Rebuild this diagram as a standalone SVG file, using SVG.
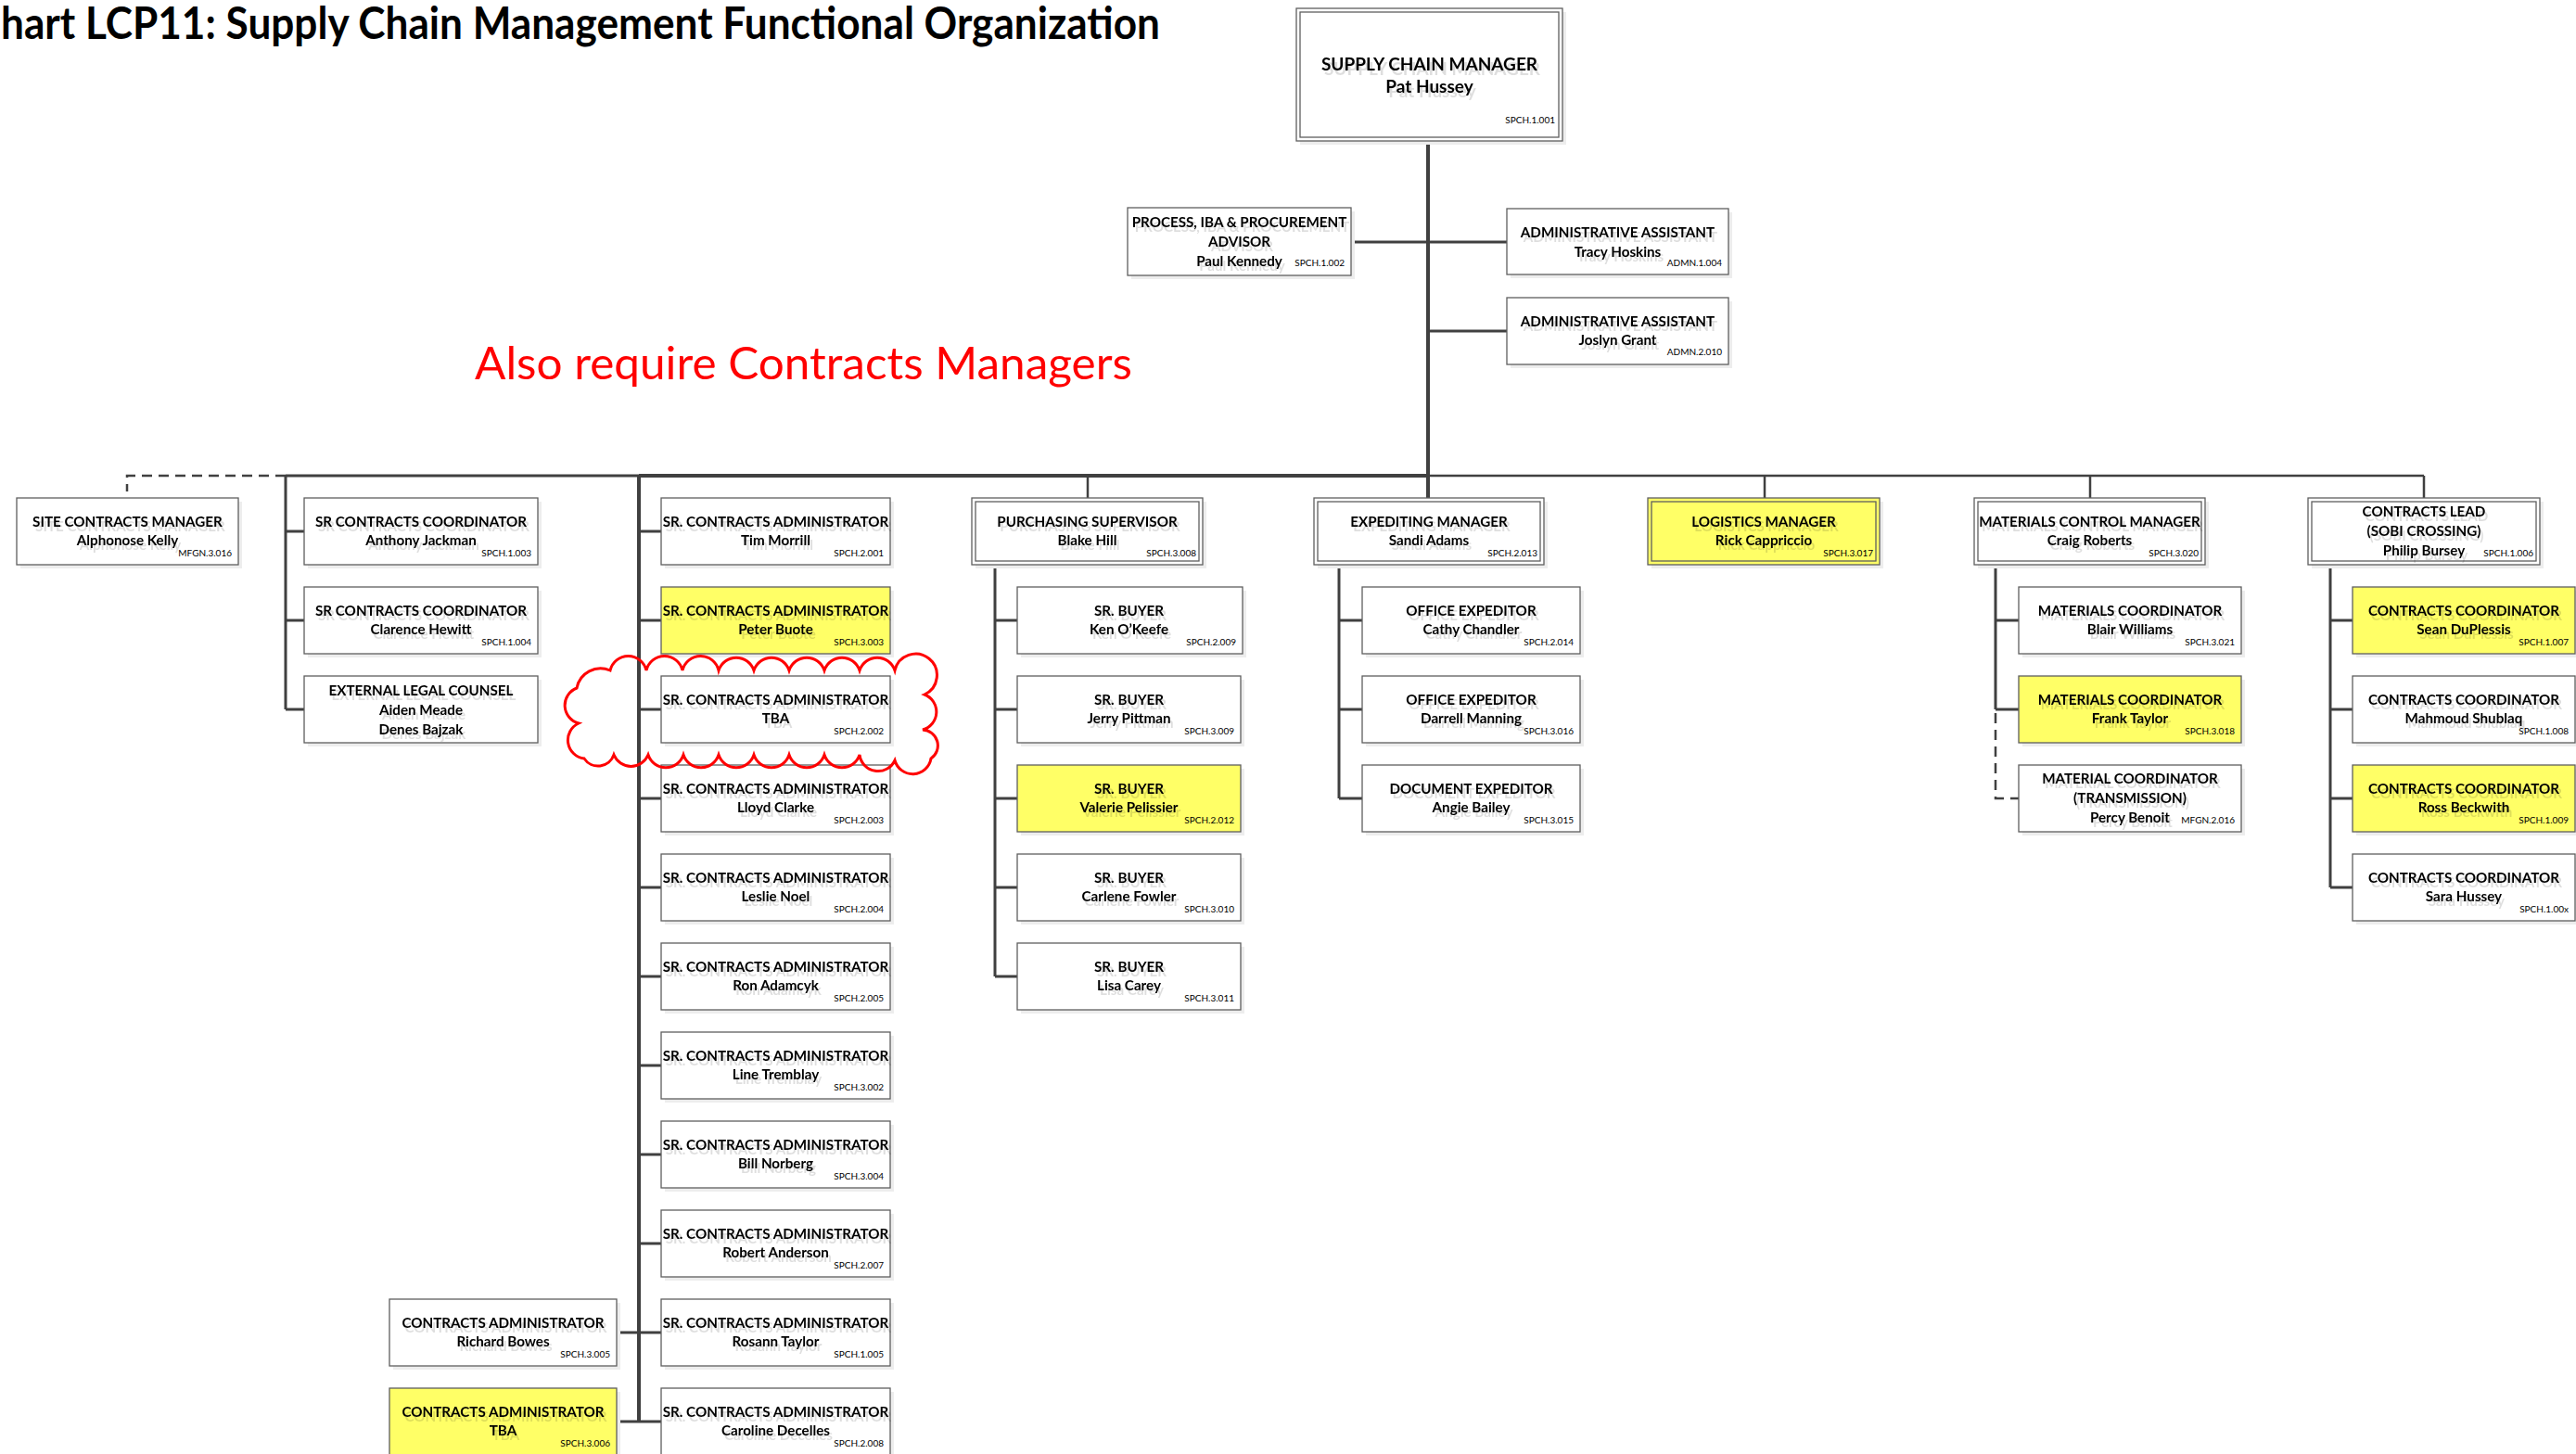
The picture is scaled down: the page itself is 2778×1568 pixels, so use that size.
<svg xmlns="http://www.w3.org/2000/svg" width="2778" height="1568" viewBox="0 0 2778 1568">
<defs>
  <!-- faint offset copy of each label, as printed by the org-chart tool -->
  <filter id="ghost" x="-5%" y="-20%" width="115%" height="160%">
    <feFlood flood-color="#000" flood-opacity="0.13" result="f"/>
    <feComposite in="f" in2="SourceAlpha" operator="in" result="s"/>
    <feOffset in="s" dx="3" dy="5" result="o"/>
    <feMerge><feMergeNode in="o"/><feMergeNode in="SourceGraphic"/></feMerge>
  </filter>
</defs>
<style>
.bg{fill:#fff}
.bx{fill:#fff;stroke:#5f5f5f;stroke-width:1.3}
.y{fill:#ffff66}
.sh{fill:#ededed}
.t{font-family:Lato,"Liberation Sans",sans-serif;font-weight:700;font-size:15.2px;text-anchor:middle;fill:#000;filter:url(#ghost)}
.tb{font-family:Lato,"Liberation Sans",sans-serif;font-weight:700;font-size:19px;text-anchor:middle;fill:#000;filter:url(#ghost)}
.c{font-family:Lato,"Liberation Sans",sans-serif;font-size:10px;text-anchor:end;fill:#000}
.ln{fill:none;stroke:#404040;stroke-width:3}
.lk{fill:none;stroke:#404040;stroke-width:4}
.lt{fill:none;stroke:#404040;stroke-width:2.5}
.ds{fill:none;stroke:#404040;stroke-width:2.5;stroke-dasharray:11 7}
.head{font-family:Lato,"Liberation Sans",sans-serif;font-weight:700;font-size:47px;fill:#000}
.note{font-family:Lato,"Liberation Sans",sans-serif;font-size:48px;fill:#ff0000}
.cloud{fill:none;stroke:#ff0000;stroke-width:3}
</style>
<rect class="bg" x="0" y="0" width="2778" height="1568"/>

<text class="head" x="1" y="42" textLength="1250" lengthAdjust="spacingAndGlyphs">hart LCP11: Supply Chain Management Functional Organization</text>

<!-- connectors -->
<g id="connectors">
  <path class="lk" d="M1540 152V537"/>
  <path class="ln" d="M1457 261H1625M1540 357H1625"/>
  <path class="lk" d="M689 513H1540"/>
  <path class="ln" d="M308 513H689"/>
  <path class="lt" d="M1540 513H2614"/>
  <path class="ds" d="M308 513H137V530"/>
  <path class="ln" d="M308 513V765M308 573H328M308 669H328M308 765H328"/>
  <path class="lk" d="M689 513V1533"/>
  <path class="ln" d="M689 573H713M689 669H713M689 765H713M689 861H713M689 957H713M689 1053H713M689 1149H713M689 1245H713M689 1341H713M689 1437H713M689 1533H713M665 1437H689M665 1533H689"/>
  <path class="lt" d="M1173 513V537M1903 513V537M2254 513V537M2614 513V537"/>
  <path class="ln" d="M1073 609V1053M1073 669H1097M1073 765H1097M1073 861H1097M1073 957H1097M1073 1053H1097"/>
  <path class="ln" d="M1444 609V861M1444 669H1469M1444 765H1469M1444 861H1469"/>
  <path class="ln" d="M2152 609V765M2152 669H2177M2152 765H2177"/>
  <path class="ds" d="M2152 769V861H2177"/>
  <path class="ln" d="M2513 609V957M2513 669H2537M2513 765H2537M2513 861H2537M2513 957H2537"/>
</g>

<!-- top of the tree -->
<g id="supply-chain-manager">
  <rect class="sh" x="1402" y="13" width="287" height="143"/>
  <rect class="bx" x="1398" y="9" width="287" height="143"/>
  <rect class="bx" x="1402" y="13" width="279" height="135"/>
  <text class="tb" x="1541.5" y="76">SUPPLY CHAIN MANAGER</text>
  <text class="tb" x="1541.5" y="100">Pat Hussey</text>
  <text class="c" x="1677" y="133">SPCH.1.001</text>
</g>
<g id="procurement-advisor">
  <rect class="sh" x="1220" y="228" width="241" height="73"/>
  <rect class="bx" x="1216" y="224" width="241" height="73"/>
  <text class="t" x="1336.5" y="245">PROCESS, IBA &amp; PROCUREMENT</text>
  <text class="t" x="1336.5" y="266">ADVISOR</text>
  <text class="t" x="1336.5" y="287">Paul Kennedy</text>
  <text class="c" x="1450" y="287">SPCH.1.002</text>
</g>
<g id="admin-assistant-1">
  <rect class="sh" x="1629" y="229" width="239" height="71"/>
  <rect class="bx" x="1625" y="225" width="239" height="71"/>
  <text class="t" x="1744.5" y="256">ADMINISTRATIVE ASSISTANT</text>
  <text class="t" x="1744.5" y="277">Tracy Hoskins</text>
  <text class="c" x="1857" y="287">ADMN.1.004</text>
</g>
<g id="admin-assistant-2">
  <rect class="sh" x="1629" y="325" width="239" height="72"/>
  <rect class="bx" x="1625" y="321" width="239" height="72"/>
  <text class="t" x="1744.5" y="352">ADMINISTRATIVE ASSISTANT</text>
  <text class="t" x="1744.5" y="372">Joslyn Grant</text>
  <text class="c" x="1857" y="383">ADMN.2.010</text>
</g>

<text class="note" x="512" y="409" textLength="709" lengthAdjust="spacingAndGlyphs">Also require Contracts Managers</text>

<!-- site contracts -->
<g id="site-contracts-manager">
  <rect class="sh" x="22" y="541" width="239" height="72"/>
  <rect class="bx" x="18" y="537" width="239" height="72"/>
  <text class="t" x="137.5" y="568">SITE CONTRACTS MANAGER</text>
  <text class="t" x="137.5" y="588">Alphonose Kelly</text>
  <text class="c" x="250" y="600">MFGN.3.016</text>
</g>

<!-- senior contracts coordinators -->
<g id="sr-coord-jackman">
  <rect class="sh" x="332" y="541" width="252" height="72"/>
  <rect class="bx" x="328" y="537" width="252" height="72"/>
  <text class="t" x="454" y="568">SR CONTRACTS COORDINATOR</text>
  <text class="t" x="454" y="588">Anthony Jackman</text>
  <text class="c" x="573" y="600">SPCH.1.003</text>
</g>
<g id="sr-coord-hewitt">
  <rect class="sh" x="332" y="637" width="252" height="72"/>
  <rect class="bx" x="328" y="633" width="252" height="72"/>
  <text class="t" x="454" y="664">SR CONTRACTS COORDINATOR</text>
  <text class="t" x="454" y="684">Clarence Hewitt</text>
  <text class="c" x="573" y="696">SPCH.1.004</text>
</g>
<g id="external-legal-counsel">
  <rect class="sh" x="332" y="733" width="252" height="72"/>
  <rect class="bx" x="328" y="729" width="252" height="72"/>
  <text class="t" x="454" y="750">EXTERNAL LEGAL COUNSEL</text>
  <text class="t" x="454" y="771">Aiden Meade</text>
  <text class="t" x="454" y="792">Denes Bajzak</text>
</g>

<!-- senior contracts administrators -->
<g id="sca-morrill">
  <rect class="sh" x="717" y="541" width="247" height="72"/>
  <rect class="bx" x="713" y="537" width="247" height="72"/>
  <text class="t" x="836.5" y="568">SR. CONTRACTS ADMINISTRATOR</text>
  <text class="t" x="836.5" y="588">Tim Morrill</text>
  <text class="c" x="953" y="600">SPCH.2.001</text>
</g>
<g id="sca-buote">
  <rect class="sh" x="717" y="637" width="247" height="72"/>
  <rect class="bx y" x="713" y="633" width="247" height="72"/>
  <text class="t" x="836.5" y="664">SR. CONTRACTS ADMINISTRATOR</text>
  <text class="t" x="836.5" y="684">Peter Buote</text>
  <text class="c" x="953" y="696">SPCH.3.003</text>
</g>
<g id="sca-tba">
  <rect class="sh" x="717" y="733" width="247" height="72"/>
  <rect class="bx" x="713" y="729" width="247" height="72"/>
  <text class="t" x="836.5" y="760">SR. CONTRACTS ADMINISTRATOR</text>
  <text class="t" x="836.5" y="780">TBA</text>
  <text class="c" x="953" y="792">SPCH.2.002</text>
</g>
<g id="sca-clarke">
  <rect class="sh" x="717" y="829" width="247" height="72"/>
  <rect class="bx" x="713" y="825" width="247" height="72"/>
  <text class="t" x="836.5" y="856">SR. CONTRACTS ADMINISTRATOR</text>
  <text class="t" x="836.5" y="876">Lloyd Clarke</text>
  <text class="c" x="953" y="888">SPCH.2.003</text>
</g>
<g id="sca-noel">
  <rect class="sh" x="717" y="925" width="247" height="72"/>
  <rect class="bx" x="713" y="921" width="247" height="72"/>
  <text class="t" x="836.5" y="952">SR. CONTRACTS ADMINISTRATOR</text>
  <text class="t" x="836.5" y="972">Leslie Noel</text>
  <text class="c" x="953" y="984">SPCH.2.004</text>
</g>
<g id="sca-adamcyk">
  <rect class="sh" x="717" y="1021" width="247" height="72"/>
  <rect class="bx" x="713" y="1017" width="247" height="72"/>
  <text class="t" x="836.5" y="1048">SR. CONTRACTS ADMINISTRATOR</text>
  <text class="t" x="836.5" y="1068">Ron Adamcyk</text>
  <text class="c" x="953" y="1080">SPCH.2.005</text>
</g>
<g id="sca-tremblay">
  <rect class="sh" x="717" y="1117" width="247" height="72"/>
  <rect class="bx" x="713" y="1113" width="247" height="72"/>
  <text class="t" x="836.5" y="1144">SR. CONTRACTS ADMINISTRATOR</text>
  <text class="t" x="836.5" y="1164">Line Tremblay</text>
  <text class="c" x="953" y="1176">SPCH.3.002</text>
</g>
<g id="sca-norberg">
  <rect class="sh" x="717" y="1213" width="247" height="72"/>
  <rect class="bx" x="713" y="1209" width="247" height="72"/>
  <text class="t" x="836.5" y="1240">SR. CONTRACTS ADMINISTRATOR</text>
  <text class="t" x="836.5" y="1260">Bill Norberg</text>
  <text class="c" x="953" y="1272">SPCH.3.004</text>
</g>
<g id="sca-anderson">
  <rect class="sh" x="717" y="1309" width="247" height="72"/>
  <rect class="bx" x="713" y="1305" width="247" height="72"/>
  <text class="t" x="836.5" y="1336">SR. CONTRACTS ADMINISTRATOR</text>
  <text class="t" x="836.5" y="1356">Robert Anderson</text>
  <text class="c" x="953" y="1368">SPCH.2.007</text>
</g>
<g id="sca-taylor">
  <rect class="sh" x="717" y="1405" width="247" height="72"/>
  <rect class="bx" x="713" y="1401" width="247" height="72"/>
  <text class="t" x="836.5" y="1432">SR. CONTRACTS ADMINISTRATOR</text>
  <text class="t" x="836.5" y="1452">Rosann Taylor</text>
  <text class="c" x="953" y="1464">SPCH.1.005</text>
</g>
<g id="sca-decelles">
  <rect class="sh" x="717" y="1501" width="247" height="72"/>
  <rect class="bx" x="713" y="1497" width="247" height="72"/>
  <text class="t" x="836.5" y="1528">SR. CONTRACTS ADMINISTRATOR</text>
  <text class="t" x="836.5" y="1548">Caroline Decelles</text>
  <text class="c" x="953" y="1560">SPCH.2.008</text>
</g>
<g id="ca-bowes">
  <rect class="sh" x="424" y="1405" width="245" height="72"/>
  <rect class="bx" x="420" y="1401" width="245" height="72"/>
  <text class="t" x="542.5" y="1432">CONTRACTS ADMINISTRATOR</text>
  <text class="t" x="542.5" y="1452">Richard Bowes</text>
  <text class="c" x="658" y="1464">SPCH.3.005</text>
</g>
<g id="ca-tba">
  <rect class="sh" x="424" y="1501" width="245" height="72"/>
  <rect class="bx y" x="420" y="1497" width="245" height="72"/>
  <text class="t" x="542.5" y="1528">CONTRACTS ADMINISTRATOR</text>
  <text class="t" x="542.5" y="1548">TBA</text>
  <text class="c" x="658" y="1560">SPCH.3.006</text>
</g>

<!-- revision cloud -->
<path class="cloud" d="M622 742A26 26 0 0 1 658 723A20 20 0 0 1 697 723A20 20 0 0 1 736 723A20 20 0 0 1 775 723A20 20 0 0 1 813 723A20 20 0 0 1 851 723A20 20 0 0 1 889 723A20 20 0 0 1 927 723A20 20 0 0 1 965 723A23 23 0 1 1 997 749A20 20 0 0 1 995 787A17 17 0 0 1 1004 818A20 20 0 0 1 965 820A20 20 0 0 1 927 814A20 20 0 0 1 889 814A20 20 0 0 1 851 814A20 20 0 0 1 813 814A20 20 0 0 1 775 814A20 20 0 0 1 737 814A20 20 0 0 1 699 814A20 20 0 0 1 662 814A18 18 0 0 1 630 818A20 20 0 0 1 624 780A20 20 0 0 1 622 742Z"/>

<!-- purchasing -->
<g id="purchasing-supervisor">
  <rect class="sh" x="1052" y="541" width="249" height="72"/>
  <rect class="bx" x="1048" y="537" width="249" height="72"/>
  <rect class="bx" x="1052" y="541" width="241" height="64"/>
  <text class="t" x="1172.5" y="568">PURCHASING SUPERVISOR</text>
  <text class="t" x="1172.5" y="588">Blake Hill</text>
  <text class="c" x="1290" y="600">SPCH.3.008</text>
</g>
<g id="buyer-okeefe">
  <rect class="sh" x="1101" y="637" width="243" height="72"/>
  <rect class="bx" x="1097" y="633" width="243" height="72"/>
  <text class="t" x="1217.5" y="664">SR. BUYER</text>
  <text class="t" x="1217.5" y="684">Ken O’Keefe</text>
  <text class="c" x="1333" y="696">SPCH.2.009</text>
</g>
<g id="buyer-pittman">
  <rect class="sh" x="1101" y="733" width="241" height="72"/>
  <rect class="bx" x="1097" y="729" width="241" height="72"/>
  <text class="t" x="1217.5" y="760">SR. BUYER</text>
  <text class="t" x="1217.5" y="780">Jerry Pittman</text>
  <text class="c" x="1331" y="792">SPCH.3.009</text>
</g>
<g id="buyer-pelissier">
  <rect class="sh" x="1101" y="829" width="241" height="72"/>
  <rect class="bx y" x="1097" y="825" width="241" height="72"/>
  <text class="t" x="1217.5" y="856">SR. BUYER</text>
  <text class="t" x="1217.5" y="876">Valerie Pelissier</text>
  <text class="c" x="1331" y="888">SPCH.2.012</text>
</g>
<g id="buyer-fowler">
  <rect class="sh" x="1101" y="925" width="241" height="72"/>
  <rect class="bx" x="1097" y="921" width="241" height="72"/>
  <text class="t" x="1217.5" y="952">SR. BUYER</text>
  <text class="t" x="1217.5" y="972">Carlene Fowler</text>
  <text class="c" x="1331" y="984">SPCH.3.010</text>
</g>
<g id="buyer-carey">
  <rect class="sh" x="1101" y="1021" width="241" height="72"/>
  <rect class="bx" x="1097" y="1017" width="241" height="72"/>
  <text class="t" x="1217.5" y="1048">SR. BUYER</text>
  <text class="t" x="1217.5" y="1068">Lisa Carey</text>
  <text class="c" x="1331" y="1080">SPCH.3.011</text>
</g>

<!-- expediting -->
<g id="expediting-manager">
  <rect class="sh" x="1421" y="541" width="248" height="72"/>
  <rect class="bx" x="1417" y="537" width="248" height="72"/>
  <rect class="bx" x="1421" y="541" width="240" height="64"/>
  <text class="t" x="1541" y="568">EXPEDITING MANAGER</text>
  <text class="t" x="1541" y="588">Sandi Adams</text>
  <text class="c" x="1658" y="600">SPCH.2.013</text>
</g>
<g id="expeditor-chandler">
  <rect class="sh" x="1473" y="637" width="235" height="72"/>
  <rect class="bx" x="1469" y="633" width="235" height="72"/>
  <text class="t" x="1586.5" y="664">OFFICE EXPEDITOR</text>
  <text class="t" x="1586.5" y="684">Cathy Chandler</text>
  <text class="c" x="1697" y="696">SPCH.2.014</text>
</g>
<g id="expeditor-manning">
  <rect class="sh" x="1473" y="733" width="235" height="72"/>
  <rect class="bx" x="1469" y="729" width="235" height="72"/>
  <text class="t" x="1586.5" y="760">OFFICE EXPEDITOR</text>
  <text class="t" x="1586.5" y="780">Darrell Manning</text>
  <text class="c" x="1697" y="792">SPCH.3.016</text>
</g>
<g id="expeditor-bailey">
  <rect class="sh" x="1473" y="829" width="235" height="72"/>
  <rect class="bx" x="1469" y="825" width="235" height="72"/>
  <text class="t" x="1586.5" y="856">DOCUMENT EXPEDITOR</text>
  <text class="t" x="1586.5" y="876">Angie Bailey</text>
  <text class="c" x="1697" y="888">SPCH.3.015</text>
</g>

<!-- logistics -->
<g id="logistics-manager">
  <rect class="sh" x="1781" y="541" width="250" height="72"/>
  <rect class="bx y" x="1777" y="537" width="250" height="72"/>
  <rect class="bx y" x="1781" y="541" width="242" height="64"/>
  <text class="t" x="1902" y="568">LOGISTICS MANAGER</text>
  <text class="t" x="1902" y="588">Rick Cappriccio</text>
  <text class="c" x="2020" y="600">SPCH.3.017</text>
</g>

<!-- materials -->
<g id="materials-control-manager">
  <rect class="sh" x="2133" y="541" width="249" height="72"/>
  <rect class="bx" x="2129" y="537" width="249" height="72"/>
  <rect class="bx" x="2133" y="541" width="241" height="64"/>
  <text class="t" x="2253.5" y="568">MATERIALS CONTROL MANAGER</text>
  <text class="t" x="2253.5" y="588">Craig Roberts</text>
  <text class="c" x="2371" y="600">SPCH.3.020</text>
</g>
<g id="materials-williams">
  <rect class="sh" x="2181" y="637" width="240" height="72"/>
  <rect class="bx" x="2177" y="633" width="240" height="72"/>
  <text class="t" x="2297" y="664">MATERIALS COORDINATOR</text>
  <text class="t" x="2297" y="684">Blair Williams</text>
  <text class="c" x="2410" y="696">SPCH.3.021</text>
</g>
<g id="materials-taylor">
  <rect class="sh" x="2181" y="733" width="240" height="72"/>
  <rect class="bx y" x="2177" y="729" width="240" height="72"/>
  <text class="t" x="2297" y="760">MATERIALS COORDINATOR</text>
  <text class="t" x="2297" y="780">Frank Taylor</text>
  <text class="c" x="2410" y="792">SPCH.3.018</text>
</g>
<g id="materials-benoit">
  <rect class="sh" x="2181" y="829" width="240" height="72"/>
  <rect class="bx" x="2177" y="825" width="240" height="72"/>
  <text class="t" x="2297" y="845">MATERIAL COORDINATOR</text>
  <text class="t" x="2297" y="866">(TRANSMISSION)</text>
  <text class="t" x="2297" y="887">Percy Benoit</text>
  <text class="c" x="2410" y="888">MFGN.2.016</text>
</g>

<!-- contracts lead -->
<g id="contracts-lead">
  <rect class="sh" x="2493" y="541" width="250" height="72"/>
  <rect class="bx" x="2489" y="537" width="250" height="72"/>
  <rect class="bx" x="2493" y="541" width="242" height="64"/>
  <text class="t" x="2614" y="557">CONTRACTS LEAD</text>
  <text class="t" x="2614" y="578">(SOBI CROSSING)</text>
  <text class="t" x="2614" y="599">Philip Bursey</text>
  <text class="c" x="2732" y="600">SPCH.1.006</text>
</g>
<g id="cc-duplessis">
  <rect class="sh" x="2541" y="637" width="240" height="72"/>
  <rect class="bx y" x="2537" y="633" width="240" height="72"/>
  <text class="t" x="2657" y="664">CONTRACTS COORDINATOR</text>
  <text class="t" x="2657" y="684">Sean DuPlessis</text>
  <text class="c" x="2770" y="696">SPCH.1.007</text>
</g>
<g id="cc-shublaq">
  <rect class="sh" x="2541" y="733" width="240" height="72"/>
  <rect class="bx" x="2537" y="729" width="240" height="72"/>
  <text class="t" x="2657" y="760">CONTRACTS COORDINATOR</text>
  <text class="t" x="2657" y="780">Mahmoud Shublaq</text>
  <text class="c" x="2770" y="792">SPCH.1.008</text>
</g>
<g id="cc-beckwith">
  <rect class="sh" x="2541" y="829" width="240" height="72"/>
  <rect class="bx y" x="2537" y="825" width="240" height="72"/>
  <text class="t" x="2657" y="856">CONTRACTS COORDINATOR</text>
  <text class="t" x="2657" y="876">Ross Beckwith</text>
  <text class="c" x="2770" y="888">SPCH.1.009</text>
</g>
<g id="cc-hussey">
  <rect class="sh" x="2541" y="925" width="240" height="72"/>
  <rect class="bx" x="2537" y="921" width="240" height="72"/>
  <text class="t" x="2657" y="952">CONTRACTS COORDINATOR</text>
  <text class="t" x="2657" y="972">Sara Hussey</text>
  <text class="c" x="2770" y="984">SPCH.1.00x</text>
</g>
</svg>
